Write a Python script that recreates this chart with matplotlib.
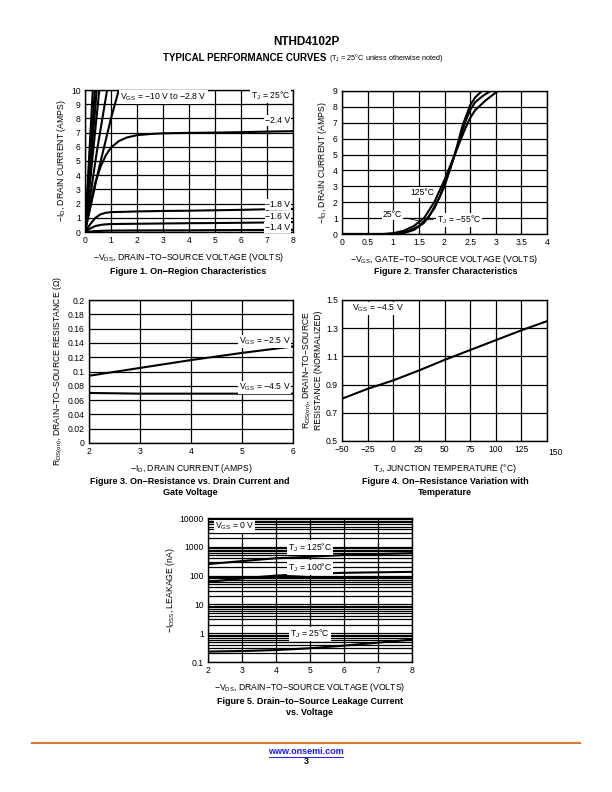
import matplotlib
matplotlib.use("Agg")
import matplotlib.pyplot as plt
from matplotlib.lines import Line2D
from matplotlib.ticker import LogLocator, NullFormatter, FixedFormatter, FixedLocator
import numpy as np

plt.rcParams['font.family'] = ['Liberation Sans', 'DejaVu Sans']
plt.rcParams['mathtext.fontset'] = 'custom'
plt.rcParams['mathtext.rm'] = 'Liberation Sans'
plt.rcParams['mathtext.default'] = 'regular'
plt.rcParams['axes.unicode_minus'] = True

# ---- Figure 1: on-region characteristics
vds_steep = [[0, 0.30], [0, 0.38], [0, 0.45], [0, 0.55], [0, 0.45, 0.85], [0, 0.5, 1.0, 1.3]]
id_steep = [[0, 10], [0, 10], [0, 10], [0, 10], [0, 5.6, 10], [0, 4.2, 8.0, 10]]
vds_24 = [0, 0.2, 0.4, 0.6, 0.8, 1.0, 1.3, 1.6, 2.0, 2.5, 3.0, 4.0, 5.0, 6.0, 7.0, 8.0]
id_24 = [0, 1.9, 3.5, 4.6, 5.4, 5.95, 6.4, 6.65, 6.82, 6.9, 6.95, 6.98, 7.0, 7.03, 7.07, 7.1]
vds_18 = [0, 0.2, 0.4, 0.6, 0.8, 1.0, 1.5, 2, 3, 4, 5, 6, 7, 8]
id_18 = [0, 0.55, 1.0, 1.25, 1.35, 1.4, 1.42, 1.45, 1.48, 1.5, 1.53, 1.56, 1.6, 1.62]
vds_16 = [0, 0.2, 0.4, 0.6, 0.8, 1.0, 2, 3, 4, 5, 6, 7, 8]
id_16 = [0, 0.25, 0.42, 0.5, 0.54, 0.56, 0.58, 0.6, 0.62, 0.63, 0.65, 0.67, 0.7]
vds_14 = [0, 0.3, 0.6, 1.0, 2, 4, 6, 8]
id_14 = [0, 0.05, 0.08, 0.1, 0.11, 0.12, 0.14, 0.15]

# ---- Figure 2: transfer characteristics
vgs_125 = [0, 0.8, 1.0, 1.2, 1.4, 1.6, 1.8, 2.0, 2.2, 2.4, 2.5, 2.6, 2.8, 3.0, 3.05]
id_125 = [0, 0.0, 0.05, 0.2, 0.5, 1.0, 2.0, 3.4, 5.0, 6.6, 7.3, 7.8, 8.4, 8.9, 9.0]
vgs_25 = [0, 0.9, 1.1, 1.3, 1.5, 1.7, 1.9, 2.1, 2.2, 2.4, 2.5, 2.6, 2.75, 2.9]
id_25 = [0, 0.0, 0.05, 0.2, 0.5, 1.1, 2.3, 4.0, 5.0, 7.0, 7.8, 8.3, 8.7, 9.0]
vgs_m55 = [0, 1.0, 1.2, 1.4, 1.6, 1.8, 2.0, 2.2, 2.35, 2.5, 2.6, 2.73]
id_m55 = [0, 0.0, 0.05, 0.25, 0.7, 1.6, 3.0, 5.0, 6.8, 8.1, 8.6, 9.0]

# ---- Figure 3: on-resistance vs drain current
id3 = [2, 3, 4, 5, 6]
rds_25 = [0.094, 0.105, 0.116, 0.126, 0.135]
rds_45 = [0.070, 0.069, 0.069, 0.069, 0.069]

# ---- Figure 4: on-resistance vs temperature
tj = [-50, -25, 0, 25, 50, 75, 100, 125, 150]
rnorm = [0.80, 0.87, 0.93, 1.0, 1.075, 1.145, 1.215, 1.285, 1.35]

# ---- Figure 5: leakage current
vds5 = [2, 3, 4, 5, 6, 7, 8]
idss_125 = [250, 320, 400, 450, 520, 560, 600]
idss_100 = [60, 80, 100, 115, 125, 130, 135]
idss_25 = [0.23, 0.24, 0.26, 0.30, 0.37, 0.47, 0.6]

FS = 6.2
LW = 1.5
W, H = 612, 792


def box(l, t, r, b):
    return [l / W, 1 - b / H, (r - l) / W, (b - t) / H]


def style(ax):
    for s in ax.spines.values():
        s.set_linewidth(1.0)
        s.set_color('black')
    ax.tick_params(labelsize=FS, length=0, pad=3)
    ax.grid(True, color='black', linewidth=0.9)
    ax.set_axisbelow(True)


wbox = dict(facecolor='white', edgecolor='none', pad=0.6)

fig = plt.figure(figsize=(6.12, 7.92), dpi=100)

fig.text(0.5, 1 - 42 / H, 'NTHD4102P', ha='center', va='center', fontsize=8.5, fontweight='bold')
fig.text(326 / W, 1 - 58 / H, 'TYPICAL PERFORMANCE CURVES', ha='right', va='center',
         fontsize=7, fontweight='bold')
fig.text(329 / W, 1 - 58 / H, '(T$_J$ = 25°C unless otherwise noted)', ha='left', va='center',
         fontsize=5.2)

# Figure 1
ax1 = fig.add_axes(box(85, 90, 293, 232))
style(ax1)
for xs, ys in zip(vds_steep, id_steep):
    ax1.plot(xs, ys, color='black', lw=LW, solid_capstyle='butt')
for xs, ys in [(vds_24, id_24), (vds_18, id_18), (vds_16, id_16), (vds_14, id_14)]:
    ax1.plot(xs, ys, color='black', lw=LW)
ax1.set_xlim(0, 8)
ax1.set_ylim(0, 10)
ax1.set_xticks(range(0, 9))
ax1.set_yticks(range(0, 11))
ax1.text(1.35, 9.5, 'V$_{GS}$ = −10 V to −2.8 V', fontsize=FS, va='center', bbox=wbox)
ax1.text(7.9, 9.6, 'T$_J$ = 25°C', fontsize=FS, va='center', ha='right', bbox=wbox)
for y, s in [(7.85, '−2.4 V'), (1.95, '−1.8 V'), (1.1, '−1.6 V'), (0.3, '−1.4 V')]:
    ax1.text(7.9, y, s, fontsize=FS, va='center', ha='right', bbox=wbox)
ax1.set_xlabel('−V$_{DS}$, DRAIN−TO−SOURCE VOLTAGE (VOLTS)', fontsize=FS, labelpad=4)
ax1.set_ylabel('−I$_D$, DRAIN CURRENT (AMPS)', fontsize=FS, labelpad=2)
fig.text(188 / W, 1 - 271 / H, 'Figure 1. On−Region Characteristics', ha='center', va='center',
         fontsize=6.5, fontweight='bold')

# Figure 2
ax2 = fig.add_axes(box(342, 91, 547, 234))
style(ax2)
for xs, ys in [(vgs_125, id_125), (vgs_25, id_25), (vgs_m55, id_m55)]:
    ax2.plot(xs, ys, color='black', lw=LW)
ax2.set_xlim(0, 4)
ax2.set_ylim(0, 9)
ax2.set_xticks(np.arange(0, 4.01, 0.5))
ax2.set_xticklabels(['0', '0.5', '1', '1.5', '2', '2.5', '3', '3.5', '4'])
ax2.set_yticks(range(0, 10))
ax2.text(1.33, 2.6, '125°C', fontsize=FS, va='center', bbox=wbox)
ax2.annotate('25°C', xy=(1.6, 0.75), xytext=(0.8, 1.2), fontsize=FS, va='center',
             bbox=wbox, arrowprops=dict(arrowstyle='-', lw=0.6, color='black'))
ax2.annotate('T$_J$ = −55°C', xy=(1.55, 0.9), xytext=(1.85, 0.9), fontsize=FS, va='center',
             bbox=wbox, arrowprops=dict(arrowstyle='-', lw=0.6, color='black'))
ax2.set_xlabel('−V$_{GS}$, GATE−TO−SOURCE VOLTAGE (VOLTS)', fontsize=FS, labelpad=4)
ax2.set_ylabel('−I$_D$, DRAIN CURRENT (AMPS)', fontsize=FS, labelpad=3)
fig.text(446 / W, 1 - 271 / H, 'Figure 2. Transfer Characteristics', ha='center', va='center',
         fontsize=6.5, fontweight='bold')

# Figure 3
ax3 = fig.add_axes(box(89, 300, 293, 443))
style(ax3)
ax3.plot(id3, rds_25, color='black', lw=LW)
ax3.plot(id3, rds_45, color='black', lw=LW)
ax3.set_xlim(2, 6)
ax3.set_ylim(0, 0.2)
ax3.set_xticks([2, 3, 4, 5, 6])
ax3.set_yticks(np.arange(0, 0.201, 0.02))
ax3.set_yticklabels(['0', '0.02', '0.04', '0.06', '0.08', '0.1', '0.12', '0.14', '0.16', '0.18', '0.2'])
ax3.text(5.95, 0.142, 'V$_{GS}$ = −2.5 V', fontsize=FS, va='center', ha='right', bbox=wbox)
ax3.text(5.95, 0.078, 'V$_{GS}$ = −4.5 V', fontsize=FS, va='center', ha='right', bbox=wbox)
ax3.set_xlabel('−I$_D$, DRAIN CURRENT (AMPS)', fontsize=FS, labelpad=4)
ax3.set_ylabel('R$_{DS(on)}$, DRAIN−TO−SOURCE RESISTANCE (Ω)', fontsize=FS, labelpad=2)
fig.text(190 / W, 1 - 487 / H, 'Figure 3. On−Resistance vs. Drain Current and\nGate Voltage',
         ha='center', va='center', fontsize=6.5, fontweight='bold', linespacing=1.3)

# Figure 4
ax4 = fig.add_axes(box(342, 300, 547, 441))
style(ax4)
ax4.plot(tj, rnorm, color='black', lw=LW)
ax4.set_xlim(-50, 150)
ax4.set_ylim(0.5, 1.5)
ax4.set_xticks(range(-50, 151, 25))
ax4.set_xticklabels(['−50', '−25', '0', '25', '50', '75', '100', '125', ''])
ax4.annotate('150', xy=(150, 0.5), xytext=(1, -5), textcoords='offset points',
             fontsize=FS, ha='left', va='top')
ax4.set_yticks([0.5, 0.7, 0.9, 1.1, 1.3, 1.5])
ax4.set_yticklabels(['0.5', '0.7', '0.9', '1.1', '1.3', '1.5'])
ax4.text(-40, 1.44, 'V$_{GS}$ = −4.5 V', fontsize=FS, va='center', bbox=wbox)
ax4.set_xlabel('T$_J$, JUNCTION TEMPERATURE (°C)', fontsize=FS, labelpad=6)
ax4.set_ylabel('R$_{DS(on)}$, DRAIN−TO−SOURCE\nRESISTANCE (NORMALIZED)', fontsize=FS, labelpad=2,
               linespacing=1.0)
fig.text(445 / W, 1 - 487 / H, 'Figure 4. On−Resistance Variation with\nTemperature',
         ha='center', va='center', fontsize=6.5, fontweight='bold', linespacing=1.3)

# Figure 5
ax5 = fig.add_axes(box(208, 518, 412, 662))
for s in ax5.spines.values():
    s.set_linewidth(1.0)
ax5.set_yscale('log')
ax5.plot(vds5, idss_125, color='black', lw=LW)
ax5.plot(vds5, idss_100, color='black', lw=LW)
ax5.plot(vds5, idss_25, color='black', lw=LW)
ax5.set_xlim(2, 8)
ax5.set_ylim(0.1, 10000)
ax5.set_xticks(range(2, 9))
ax5.yaxis.set_major_locator(FixedLocator([0.1, 1, 10, 100, 1000, 10000]))
ax5.yaxis.set_major_formatter(FixedFormatter(['0.1', '1', '10', '100', '1000', '10000']))
ax5.yaxis.set_minor_locator(LogLocator(base=10, subs=np.arange(2, 10), numticks=20))
ax5.yaxis.set_minor_formatter(NullFormatter())
ax5.grid(True, which='major', color='black', linewidth=0.9)
ax5.grid(True, which='minor', axis='y', color='black', linewidth=0.9)
ax5.set_axisbelow(True)
ax5.tick_params(which='both', labelsize=FS, length=0, pad=3)
ax5.text(2.2, 5000, 'V$_{GS}$ = 0 V', fontsize=FS, va='center', bbox=wbox)
ax5.text(5.0, 950, 'T$_J$ = 125°C', fontsize=FS, va='center', ha='center', bbox=wbox)
ax5.text(5.0, 190, 'T$_J$ = 100°C', fontsize=FS, va='center', ha='center', bbox=wbox)
ax5.text(5.0, 0.95, 'T$_J$ = 25°C', fontsize=FS, va='center', ha='center', bbox=wbox)
ax5.set_xlabel('−V$_{DS}$, DRAIN−TO−SOURCE VOLTAGE (VOLTS)', fontsize=FS, labelpad=4)
ax5.set_ylabel('−I$_{DSS}$, LEAKAGE (nA)', fontsize=FS, labelpad=2)
fig.text(310 / W, 1 - 707 / H, 'Figure 5. Drain−to−Source Leakage Current\nvs. Voltage',
         ha='center', va='center', fontsize=6.5, fontweight='bold', linespacing=1.3)

# footer
fig.add_artist(Line2D([32 / W, 580 / W], [1 - 743 / H, 1 - 743 / H], color='#D9782D', lw=1.5))
fig.text(0.5, 1 - 752 / H, 'www.onsemi.com', ha='center', va='center', fontsize=6.5,
         fontweight='bold', color='#1A1AE6')
fig.add_artist(Line2D([269 / W, 343 / W], [1 - 756.5 / H, 1 - 756.5 / H], color='#1A1AE6', lw=0.7))
fig.text(0.5, 1 - 762 / H, '3', ha='center', va='center', fontsize=6.5, fontweight='bold')

fig.savefig('out.png', dpi=100)
